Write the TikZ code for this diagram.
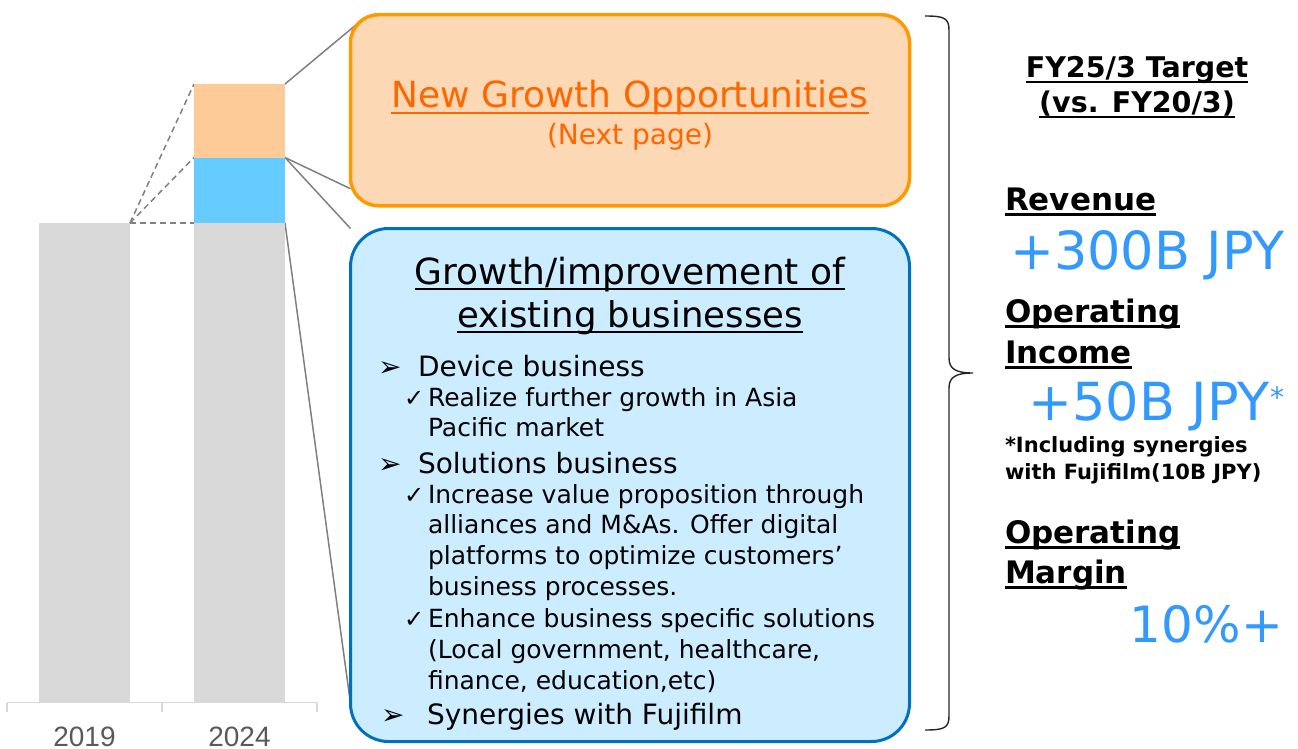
\documentclass[tikz,border=0pt]{standalone}
\usepackage{fontspec}
\setmainfont{DejaVu Sans}
\newfontfamily\yearfont{Liberation Sans}
\usepackage{xcolor}
\definecolor{bargray}{HTML}{D9D9D9}
\definecolor{barblue}{HTML}{66CCFF}
\definecolor{barorange}{HTML}{FDCB98}
\definecolor{ngofill}{HTML}{FDD8B4}
\definecolor{ngoline}{HTML}{FF9900}
\definecolor{ngotext}{HTML}{FF6600}
\definecolor{egbfill}{HTML}{CCECFF}
\definecolor{egbline}{HTML}{0070C0}
\definecolor{kpiblue}{HTML}{3399FF}
\definecolor{linkgray}{HTML}{808080}
\definecolor{yeargray}{HTML}{595959}
\usetikzlibrary{calc}
\pgfdeclarelayer{back}
\pgfsetlayers{back,main}
\newsavebox{\ulbox}
\newcommand{\uln}[1]{\sbox{\ulbox}{#1}\rlap{\raisebox{-0.18em}{\rule{\wd\ulbox}{0.08em}}}\usebox{\ulbox}}
\newcommand{\fsz}[2]{\fontsize{#1}{#2}\selectfont}

\begin{document}
\begin{tikzpicture}[x=1pt,y=-1pt,
  seg/.style={inner sep=0,outer sep=0,minimum width=91pt},
  link/.style={draw=linkgray,line width=1.5pt},
  guide/.style={draw=linkgray,line width=1.5pt,dash pattern=on 6pt off 4pt},
  card/.style={inner sep=0,outer sep=0,minimum width=559pt},
  txt/.style={inner sep=0,outer sep=0,anchor=base west},
  kpihead/.style={txt,font=\bfseries\fsz{31}{36}},
  kpival/.style={inner sep=0,outer sep=0,anchor=base east,text=kpiblue,font=\fsz{52.5}{58}}]
  \useasboundingbox (0,0) rectangle (1298,749);
  % bars
  \node[seg,fill=bargray,minimum height=479pt] (b19) at (84.5,462.5) {};
  \node[seg,fill=bargray,minimum height=479pt] (b24base) at (239.5,462.5) {};
  \node[seg,fill=barblue,minimum height=65.5pt] (b24exist) at (239.5,190.25) {};
  \node[seg,fill=barorange,minimum height=73.5pt] (b24new) at (239.5,120.75) {};
  \draw[bargray,line width=1.5pt] (7,702.5) -- (317,702.5);
  \foreach \x in {7,162,317}
    \draw[bargray,line width=1.5pt] (\x,702.5) -- (\x,712);
  \node[inner sep=0,anchor=base,text=yeargray,font=\yearfont\fsz{28}{34}] (y19) at (84.5,746) {2019};
  \node[inner sep=0,anchor=base,text=yeargray,font=\yearfont\fsz{28}{34}] (y24) at (239.5,746) {2024};
  % boxes
  \node[card,draw=ngoline,line width=3.5pt,fill=ngofill,rounded corners=28pt,minimum height=191pt] (ngo) at (630,110.25) {};
  \node[card,draw=egbline,line width=3pt,fill=egbfill,rounded corners=38pt,minimum height=513pt] (egb) at (630,485) {};
  \begin{pgfonlayer}{back}
    \draw[guide] (b19.north east) -- (b24new.north west);
    \draw[guide] (b19.north east) -- (b24exist.north west);
    \draw[guide] (b19.north east) -- (b24base.north west);
    \draw[link] (b24new.north east) -- ($(ngo.north west)+(6.5,9.25)$);
    \draw[link] (b24exist.north east) -- ($(ngo.south west)+(0,-17)$);
    \draw[link] (b24exist.north east) -- (egb.north west);
    \draw[link] (b24base.north east) -- ($(egb.south west)+(0,-38)$);
  \end{pgfonlayer}
  \node[inner sep=0,anchor=base,text=ngotext,font=\fsz{36}{42}] (ngot) at (630,108) {\uln{New Growth Opportunities}};
  \node[inner sep=0,anchor=base,text=ngotext,font=\fsz{28}{34}] (ngos) at (630,145) {(Next page)};
  \node[inner sep=0,anchor=base,font=\fsz{36}{43}] (egt1) at (630,284) {\uln{Growth/improvement of}};
  \node[inner sep=0,anchor=base,font=\fsz{35.5}{43}] (egt2) at (630,327) {\uln{existing businesses}};
  % list (multi-line nodes sit on their last line)
  \node[txt,font=\fsz{28}{34}] (bl1) at (378,376) {➢};
  \node[txt,font=\fsz{28}{34}] (dev) at (418,376) {Device business};
  \node[txt,font=\fsz{24}{30}] (ck1) at (404,406) {✓};
  \node[txt,align=left,font=\fsz{25}{30.5}] (dev1) at (428,436.5) {Realize further growth in Asia\\Pacific market};
  \node[txt,font=\fsz{28}{34}] (bl2) at (378,473) {➢};
  \node[txt,font=\fsz{28}{34}] (sol) at (418,473) {Solutions business};
  \node[txt,font=\fsz{24}{30}] (ck2) at (404,503) {✓};
  \node[txt,align=left,font=\fsz{25}{30.8}] (sol1) at (428,595.4) {Increase value proposition through\\alliances and M\&As. Offer digital\\platforms to optimize customers’\\business processes.};
  \node[txt,font=\fsz{24}{30}] (ck3) at (404,627) {✓};
  \node[txt,align=left,font=\fsz{25}{31}] (sol2) at (428,689) {Enhance business specific solutions\\(Local government, healthcare,\\finance, education,etc)};
  \node[txt,font=\fsz{28}{34}] (bl3) at (381,724) {➢};
  \node[txt,font=\fsz{28}{34}] (syn) at (427,724) {Synergies with Fujifilm};
  % brace
  \draw[line width=1.4pt,black!85] (925,16) .. controls (944,16) and (949,18) .. (949,30) -- (949,358)
    .. controls (949,369) and (956,373) .. (973,373) .. controls (956,373) and (949,377) .. (949,388)
    -- (949,716) .. controls (949,728) and (944,730) .. (925,730);
  % targets
  \node[inner sep=0,anchor=base,font=\bfseries\fsz{28.5}{35}] (tgt1) at (1137,78) {\uln{FY25/3 Target}};
  \node[inner sep=0,anchor=base,font=\bfseries\fsz{28.5}{35}] (tgt2) at (1137,113) {\uln{(vs. FY20/3)}};
  \node[kpihead] (rev) at (1005,210) {\uln{Revenue}};
  \node[kpival] (revv) at (1285,269) {+300B JPY};
  \node[kpihead] (oi1) at (1005,322) {\uln{Operating}};
  \node[kpihead] (oi2) at (1005,363) {\uln{Income}};
  \node[kpival] (oiv) at (1284,420) {+50B JPY\raisebox{13pt}{\fsz{28}{30}*}};
  \node[txt,font=\bfseries\fsz{21}{26}] (note1) at (1005,452) {*Including synergies};
  \node[txt,font=\bfseries\fsz{21}{26}] (note2) at (1005,479) {with Fujifilm(10B JPY)};
  \node[kpihead] (om1) at (1005,543) {\uln{Operating}};
  \node[kpihead] (om2) at (1005,583) {\uln{Margin}};
  \node[kpival,font=\fsz{50}{56}] (omv) at (1283,642) {10\%+};
\end{tikzpicture}
\end{document}
